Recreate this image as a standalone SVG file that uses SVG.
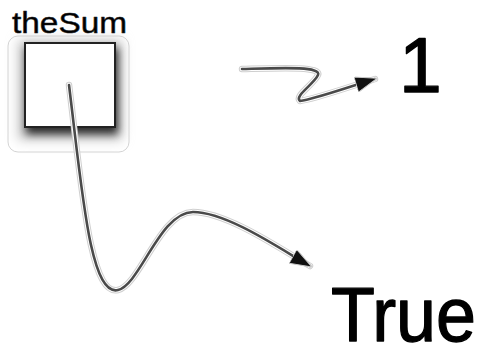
<svg xmlns="http://www.w3.org/2000/svg" width="481" height="345" viewBox="0 0 481 345">
<defs>
<filter id="sh" x="-30%" y="-30%" width="160%" height="160%">
<feGaussianBlur in="SourceAlpha" stdDeviation="4"/>
<feOffset dx="2" dy="6" result="b"/>
<feFlood flood-color="#000" flood-opacity="0.8"/>
<feComposite in2="b" operator="in" result="s"/>
<feMerge><feMergeNode in="s"/><feMergeNode in="SourceGraphic"/></feMerge>
</filter>
<filter id="glow" x="-30%" y="-30%" width="160%" height="160%">
<feGaussianBlur stdDeviation="6"/>
</filter>
<marker id="ahb" viewBox="0 0 10 10" refX="9" refY="5" markerWidth="22" markerHeight="16" orient="auto" markerUnits="userSpaceOnUse" preserveAspectRatio="none">
<path d="M0,0 L10,5 L0,10 z" fill="#111" stroke="#ccc" stroke-width="0.6"/>
</marker>
</defs>
<style>
.lbl{font-family:"Liberation Sans",Arial,sans-serif;fill:#000;stroke:#222;stroke-width:0.5;stroke-linejoin:round}
.big{font-family:"Liberation Sans",Arial,sans-serif;fill:#000;stroke:#000;stroke-width:1.3;stroke-linejoin:round}
.halo{fill:none;stroke:#cfcfcf;stroke-width:6.5;stroke-linecap:round;stroke-linejoin:round}
.mid{fill:none;stroke:#fff;stroke-width:4.5;stroke-linecap:round;stroke-linejoin:round}
.core{fill:none;stroke:#4a4a4a;stroke-width:2.6;stroke-linecap:round;stroke-linejoin:round}
</style>
<g id="theSum">
<rect x="8" y="36" width="121" height="116" rx="10" fill="#fff" stroke="#d4d4d4" stroke-width="1"/>
<rect x="18" y="40" width="104" height="100" fill="#c8c8c8" filter="url(#glow)"/>
<text class="lbl" x="12" y="33" font-size="30" textLength="115" lengthAdjust="spacingAndGlyphs">theSum</text>
<rect x="25" y="43" width="90" height="84" fill="#fff" stroke="#222" stroke-width="2" filter="url(#sh)"/>
</g>
<g id="one">
<text class="big" x="399" y="92" font-size="77">1</text>
</g>
<g id="true">
<text class="big" x="331" y="341" font-size="76" textLength="145" lengthAdjust="spacingAndGlyphs">True</text>
</g>
<g id="connectors">
<path class="halo" d="M69,85 C 82,190 90,297 118,290 C 140,285 160,212 193,212 C 228,212 285,252 310,266"/>
<path class="mid" d="M69,85 C 82,190 90,297 118,290 C 140,285 160,212 193,212 C 228,212 285,252 310,266"/>
<path class="core" d="M69,85 C 82,190 90,297 118,290 C 140,285 160,212 193,212 C 228,212 285,252 310,266" marker-end="url(#ahb)"/>
<path class="halo" d="M242,69 C 280,68 322,66 318,75 C 314,84 294,96 300,101 C 315,99 345,88 375,79"/>
<path class="mid" d="M242,69 C 280,68 322,66 318,75 C 314,84 294,96 300,101 C 315,99 345,88 375,79"/>
<path class="core" d="M242,69 C 280,68 322,66 318,75 C 314,84 294,96 300,101 C 315,99 345,88 375,79" marker-end="url(#ahb)"/>
</g>
</svg>
